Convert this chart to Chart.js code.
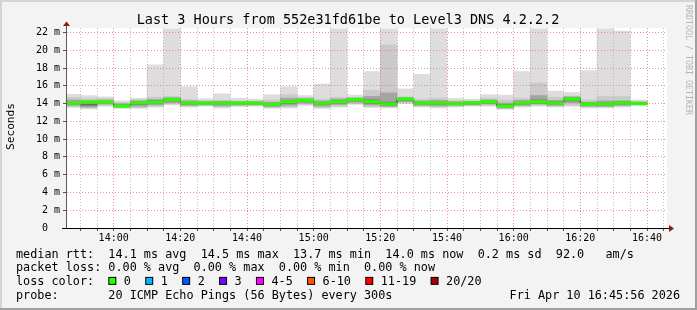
<!DOCTYPE html>
<html>
<head>
<meta charset="utf-8">
<script src="https://cdn.jsdelivr.net/npm/chart.js@4.4.1/dist/chart.umd.min.js"></script>
<style>
    html, body { margin: 0; padding: 0; background: #f3f3f3; }
    canvas { display: block; }
</style>
</head>
<body>
<canvas id="smokeChart" width="697" height="310"></canvas>
<script>
// 5 minute steps, each labelled by the time the step ends
const binEnd = ['13:50', '13:55', '14:00', '14:05', '14:10', '14:15', '14:20', '14:25', '14:30', '14:35',
    '14:40', '14:45', '14:50', '14:55', '15:00', '15:05', '15:10', '15:15', '15:20', '15:25',
    '15:30', '15:35', '15:40', '15:45', '15:50', '15:55', '16:00', '16:05', '16:10', '16:15',
    '16:20', '16:25', '16:30', '16:35', '16:40'];

// values in ms
const median = [14.05, 14.15, 14.15, 13.72, 14.08, 14.15, 14.45, 14.05, 14.05, 14.05,
    14.05, 14.05, 13.92, 14.2, 14.35, 14.05, 14.2, 14.45, 14.2, 13.95,
    14.5, 14.05, 14.05, 14.0, 14.08, 14.2, 13.72, 14.05, 14.2, 14.05,
    14.5, 13.95, 13.95, 14.08, 14.02];
const rttMax = [15.05, 14.9, 14.75, 14.3, 14.6, 18.35, 22.4, 15.9, 14.55, 15.1,
    14.6, 14.5, 15.0, 15.9, 14.9, 16.2, 22.4, 14.95, 17.6, 22.4,
    15.65, 17.3, 22.4, 14.6, 14.5, 15.0, 14.95, 17.6, 22.4, 15.4,
    15.25, 17.7, 22.4, 22.15, 14.4];
const rttMin = [13.55, 13.4, 13.7, 13.45, 13.45, 13.6, 13.85, 13.6, 13.7, 13.5,
    13.65, 13.7, 13.45, 13.5, 13.8, 13.45, 13.6, 13.9, 13.55, 13.5,
    14.0, 13.6, 13.5, 13.6, 13.7, 13.7, 13.35, 13.6, 13.7, 13.6,
    13.7, 13.5, 13.5, 13.6, 13.75];
const hi2 = [14.7, 14.6, 14.55, 14.1, 14.45, 14.7, 14.8, 14.45, 14.35, 14.4,
    14.3, 14.3, 14.4, 15.0, 14.7, 14.5, 14.7, 14.7, 15.5, 20.6,
    14.75, 14.5, 14.6, 14.35, 14.3, 14.6, 14.4, 14.6, 16.3, 14.7,
    14.85, 14.4, 14.8, 14.8, 14.2];
const lo2 = [13.65, 13.5, 13.8, 13.55, 13.55, 13.7, 13.95, 13.7, 13.8, 13.6,
    13.75, 13.8, 13.55, 13.6, 13.9, 13.55, 13.7, 14.0, 13.65, 13.6,
    14.1, 13.7, 13.6, 13.7, 13.8, 13.8, 13.45, 13.7, 13.8, 13.7,
    13.8, 13.6, 13.6, 13.7, 13.85];
const hi4 = [14.4, 14.35, 14.4, 13.95, 14.3, 14.45, 14.65, 14.3, 14.2, 14.25,
    14.2, 14.2, 14.15, 14.6, 14.55, 14.3, 14.5, 14.6, 14.8, 15.2,
    14.65, 14.3, 14.35, 14.2, 14.25, 14.4, 14.05, 14.35, 14.9, 14.35,
    14.75, 14.15, 14.3, 14.3, 14.15];
const lo4 = [13.8, 13.6, 13.95, 13.6, 13.7, 13.85, 14.1, 13.8, 13.85, 13.75,
    13.85, 13.85, 13.65, 13.8, 14.05, 13.7, 13.9, 14.15, 13.85, 13.7,
    14.2, 13.8, 13.75, 13.8, 13.85, 13.95, 13.5, 13.8, 13.95, 13.8,
    14.1, 13.7, 13.7, 13.8, 13.9];
const hi7 = [14.15, 14.25, 14.25, 13.85, 14.2, 14.3, 14.55, 14.15, 14.12, 14.15,
    14.12, 14.12, 14.02, 14.35, 14.45, 14.15, 14.35, 14.5, 14.4, 14.15,
    14.58, 14.15, 14.15, 14.1, 14.15, 14.3, 13.9, 14.15, 14.4, 14.2,
    14.62, 14.05, 14.05, 14.2, 14.1];
const lo7 = [13.95, 13.8, 14.05, 13.68, 13.9, 14.0, 14.3, 13.92, 13.95, 13.95,
    13.95, 13.95, 13.8, 14.0, 14.2, 13.9, 14.05, 14.3, 14.0, 13.8,
    14.35, 13.95, 13.9, 13.9, 13.95, 14.05, 13.65, 13.9, 14.05, 13.95,
    14.3, 13.85, 13.8, 13.95, 13.95];

const lossLabels = ['0', '1', '2', '3', '4-5', '6-10', '11-19', '20/20'];
const lossColors = ['#26ff00', '#00b8ff', '#0059ff', '#7e00ff', '#ff00ff', '#ff5500', '#ff0000', '#a10000'];

const titleText = 'Last 3 Hours from 552e31fd61be to Level3 DNS 4.2.2.2';
const legendLines = [
    'median rtt:  14.1 ms avg  14.5 ms max  13.7 ms min  14.0 ms now  0.2 ms sd  92.0   am/s',
    'packet loss: 0.00 % avg  0.00 % max  0.00 % min  0.00 % now',
    'loss color:  ',
    'probe:       20 ICMP Echo Pings (56 Bytes) every 300s'
];
const stampText = 'Fri Apr 10 16:45:56 2026';

const stepMinutes = 5;
const windowStart = '13:46';
const windowHours = 3;
const yMax = 22.5;

const MONO = '"DejaVu Sans Mono", monospace';

function toMinutes(hhmm) {
    const [h, m] = hhmm.split(':').map(Number);
    return h * 60 + m;
}

function fmtTime(minutes) {
    const h = Math.floor(minutes / 60);
    const m = Math.round(minutes % 60);
    return String(h).padStart(2, '0') + ':' + String(m).padStart(2, '0');
}

const xMin = toMinutes(windowStart);
const xMax = xMin + windowHours * 60;

function bandDataset(lo, hi, color, order) {
    return {
        type: 'bar',
        data: binEnd.map((t, i) => ({ x: toMinutes(t) - stepMinutes / 2, y: [lo[i], hi[i]] })),
        backgroundColor: color,
        borderWidth: 0,
        grouped: false,
        barPercentage: 1,
        categoryPercentage: 1,
        order: order
    };
}

const medianHalf = 0.15;

const rrdPlugin = {
    id: 'rrdFrame',
    beforeDraw(chart) {
        const ctx = chart.ctx;
        const { width, height } = chart;
        const area = chart.chartArea;
        ctx.save();
        ctx.fillStyle = '#f3f3f3';
        ctx.fillRect(0, 0, width, height);
        ctx.fillStyle = '#d4d4d4';
        ctx.fillRect(0, 0, width, 2);
        ctx.fillRect(0, 0, 2, height);
        ctx.fillStyle = '#9f9f9f';
        ctx.fillRect(0, height - 2, width, 2);
        ctx.fillRect(width - 2, 0, 2, height);
        ctx.fillStyle = '#ffffff';
        ctx.fillRect(area.left, area.top, area.right - area.left, area.bottom - area.top);
        ctx.restore();
    },
    afterDraw(chart) {
        const ctx = chart.ctx;
        const area = chart.chartArea;
        ctx.save();

        // axes with arrows
        ctx.fillStyle = '#5a5a5a';
        ctx.fillRect(area.left - 1, area.top - 3, 1, area.bottom - area.top + 3);
        ctx.fillStyle = '#000000';
        ctx.fillRect(area.left - 5, area.bottom, area.right - area.left + 8, 1);
        ctx.fillStyle = '#8b1a1a';
        ctx.beginPath();
        ctx.moveTo(area.left - 0.5, area.top - 6.5);
        ctx.lineTo(area.left - 4, area.top - 2);
        ctx.lineTo(area.left + 3, area.top - 2);
        ctx.closePath();
        ctx.fill();
        ctx.beginPath();
        ctx.moveTo(area.right + 7, area.bottom + 0.5);
        ctx.lineTo(area.right + 2, area.bottom - 3);
        ctx.lineTo(area.right + 2, area.bottom + 4);
        ctx.closePath();
        ctx.fill();

        // title
        ctx.fillStyle = '#000000';
        ctx.font = '13.5px ' + MONO;
        ctx.textAlign = 'center';
        ctx.textBaseline = 'alphabetic';
        ctx.fillText(titleText, 348, 23.5);

        // y axis title
        ctx.save();
        ctx.translate(11, 126.5);
        ctx.rotate(-Math.PI / 2);
        ctx.font = '11.2px ' + MONO;
        ctx.textBaseline = 'middle';
        ctx.fillText('Seconds', 0, 0);
        ctx.restore();

        // watermark
        ctx.save();
        ctx.translate(688, 60);
        ctx.rotate(Math.PI / 2);
        ctx.font = '8.3px ' + MONO;
        ctx.fillStyle = '#b4b4b4';
        ctx.textBaseline = 'middle';
        ctx.fillText('RRDTOOL / TOBI OETIKER', 0, 0);
        ctx.restore();

        // legend block
        ctx.font = '11.8px ' + MONO;
        ctx.textAlign = 'left';
        const rowY = [257.5, 271.2, 284.9, 298.5];
        legendLines.forEach((line, i) => ctx.fillText(line, 16, rowY[i]));
        ctx.textAlign = 'right';
        ctx.fillText(stampText, 680, rowY[3]);
        ctx.textAlign = 'left';

        let bx = 16 + ctx.measureText(legendLines[2]).width;
        lossLabels.forEach((label, i) => {
            ctx.fillStyle = '#000000';
            ctx.fillRect(bx, rowY[2] - 8, 8, 8);
            ctx.fillStyle = lossColors[i];
            ctx.fillRect(bx + 1, rowY[2] - 7, 6, 6);
            ctx.fillStyle = '#000000';
            const lx = bx + 15.5;
            ctx.fillText(label, lx, rowY[2]);
            bx = lx + ctx.measureText(label).width + 14.3;
        });

        ctx.restore();
    }
};

const majorGrid = 'rgba(235, 110, 110, 0.75)';
const minorGrid = 'rgba(170, 170, 170, 0.75)';

const chart = new Chart(document.getElementById('smokeChart'), {
    type: 'bar',
    data: {
        datasets: [
            {
                type: 'bar',
                data: binEnd.map((t, i) => ({ x: toMinutes(t) - stepMinutes / 2, y: [median[i] - medianHalf, median[i] + medianHalf] })),
                backgroundColor: lossColors[0],
                borderWidth: 0,
                grouped: false,
                barPercentage: 1,
                categoryPercentage: 1,
                order: 1
            },
            {
                type: 'line',
                data: binEnd.map((t, i) => ({ x: toMinutes(t) - stepMinutes / 2, y: median[i] })),
                borderColor: '#202020',
                borderWidth: 1,
                pointRadius: 0,
                stepped: 'middle',
                fill: false,
                order: 2
            },
            bandDataset(lo7, hi7, '#6b6b6b', 3),
            bandDataset(lo4, hi4, '#a4a4a4', 4),
            bandDataset(lo2, hi2, '#cacaca', 5),
            bandDataset(rttMin, rttMax, '#dddddd', 6)
        ]
    },
    options: {
        responsive: false,
        animation: false,
        devicePixelRatio: 1,
        layout: { padding: { top: 28, right: 30, left: 0, bottom: 0 } },
        plugins: {
            legend: { display: false },
            tooltip: { enabled: false }
        },
        scales: {
            x: {
                type: 'linear',
                min: xMin,
                max: xMax,
                offset: false,
                afterBuildTicks: (scale) => {
                    const ticks = [];
                    for (let t = Math.ceil(xMin / stepMinutes) * stepMinutes; t <= xMax; t += stepMinutes) {
                        ticks.push({ value: t });
                    }
                    scale.ticks = ticks;
                },
                afterFit: (scale) => { scale.height = 82; },
                ticks: {
                    autoSkip: false,
                    maxRotation: 0,
                    padding: 1,
                    color: '#000000',
                    font: { family: MONO, size: 10 },
                    callback: (v) => v % 20 === 0 ? fmtTime(v) : ''
                },
                grid: {
                    offset: false,
                    z: 1,
                    lineWidth: 1,
                    color: (c) => c.tick && c.tick.value % 20 === 0 ? majorGrid : minorGrid,
                    tickLength: 3,
                    tickColor: '#555555'
                },
                border: { display: false, dash: [1, 2] }
            },
            y: {
                type: 'linear',
                min: 0,
                max: yMax,
                afterBuildTicks: (scale) => {
                    const ticks = [];
                    for (let v = 0; v <= yMax; v += 1) ticks.push({ value: v });
                    scale.ticks = ticks;
                },
                afterFit: (scale) => { scale.width = 67; },
                ticks: {
                    padding: 3,
                    color: '#000000',
                    font: { family: MONO, size: 10 },
                    callback: (v) => v % 2 === 0 ? (v === 0 ? '0  ' : v + ' m') : ''
                },
                grid: {
                    z: 1,
                    lineWidth: 1,
                    color: (c) => c.tick && c.tick.value % 2 === 0 ? majorGrid : minorGrid,
                    tickLength: 4,
                    tickColor: '#555555'
                },
                border: { display: false, dash: [1, 2] }
            }
        }
    },
    plugins: [rrdPlugin]
});
</script>
</body>
</html>
